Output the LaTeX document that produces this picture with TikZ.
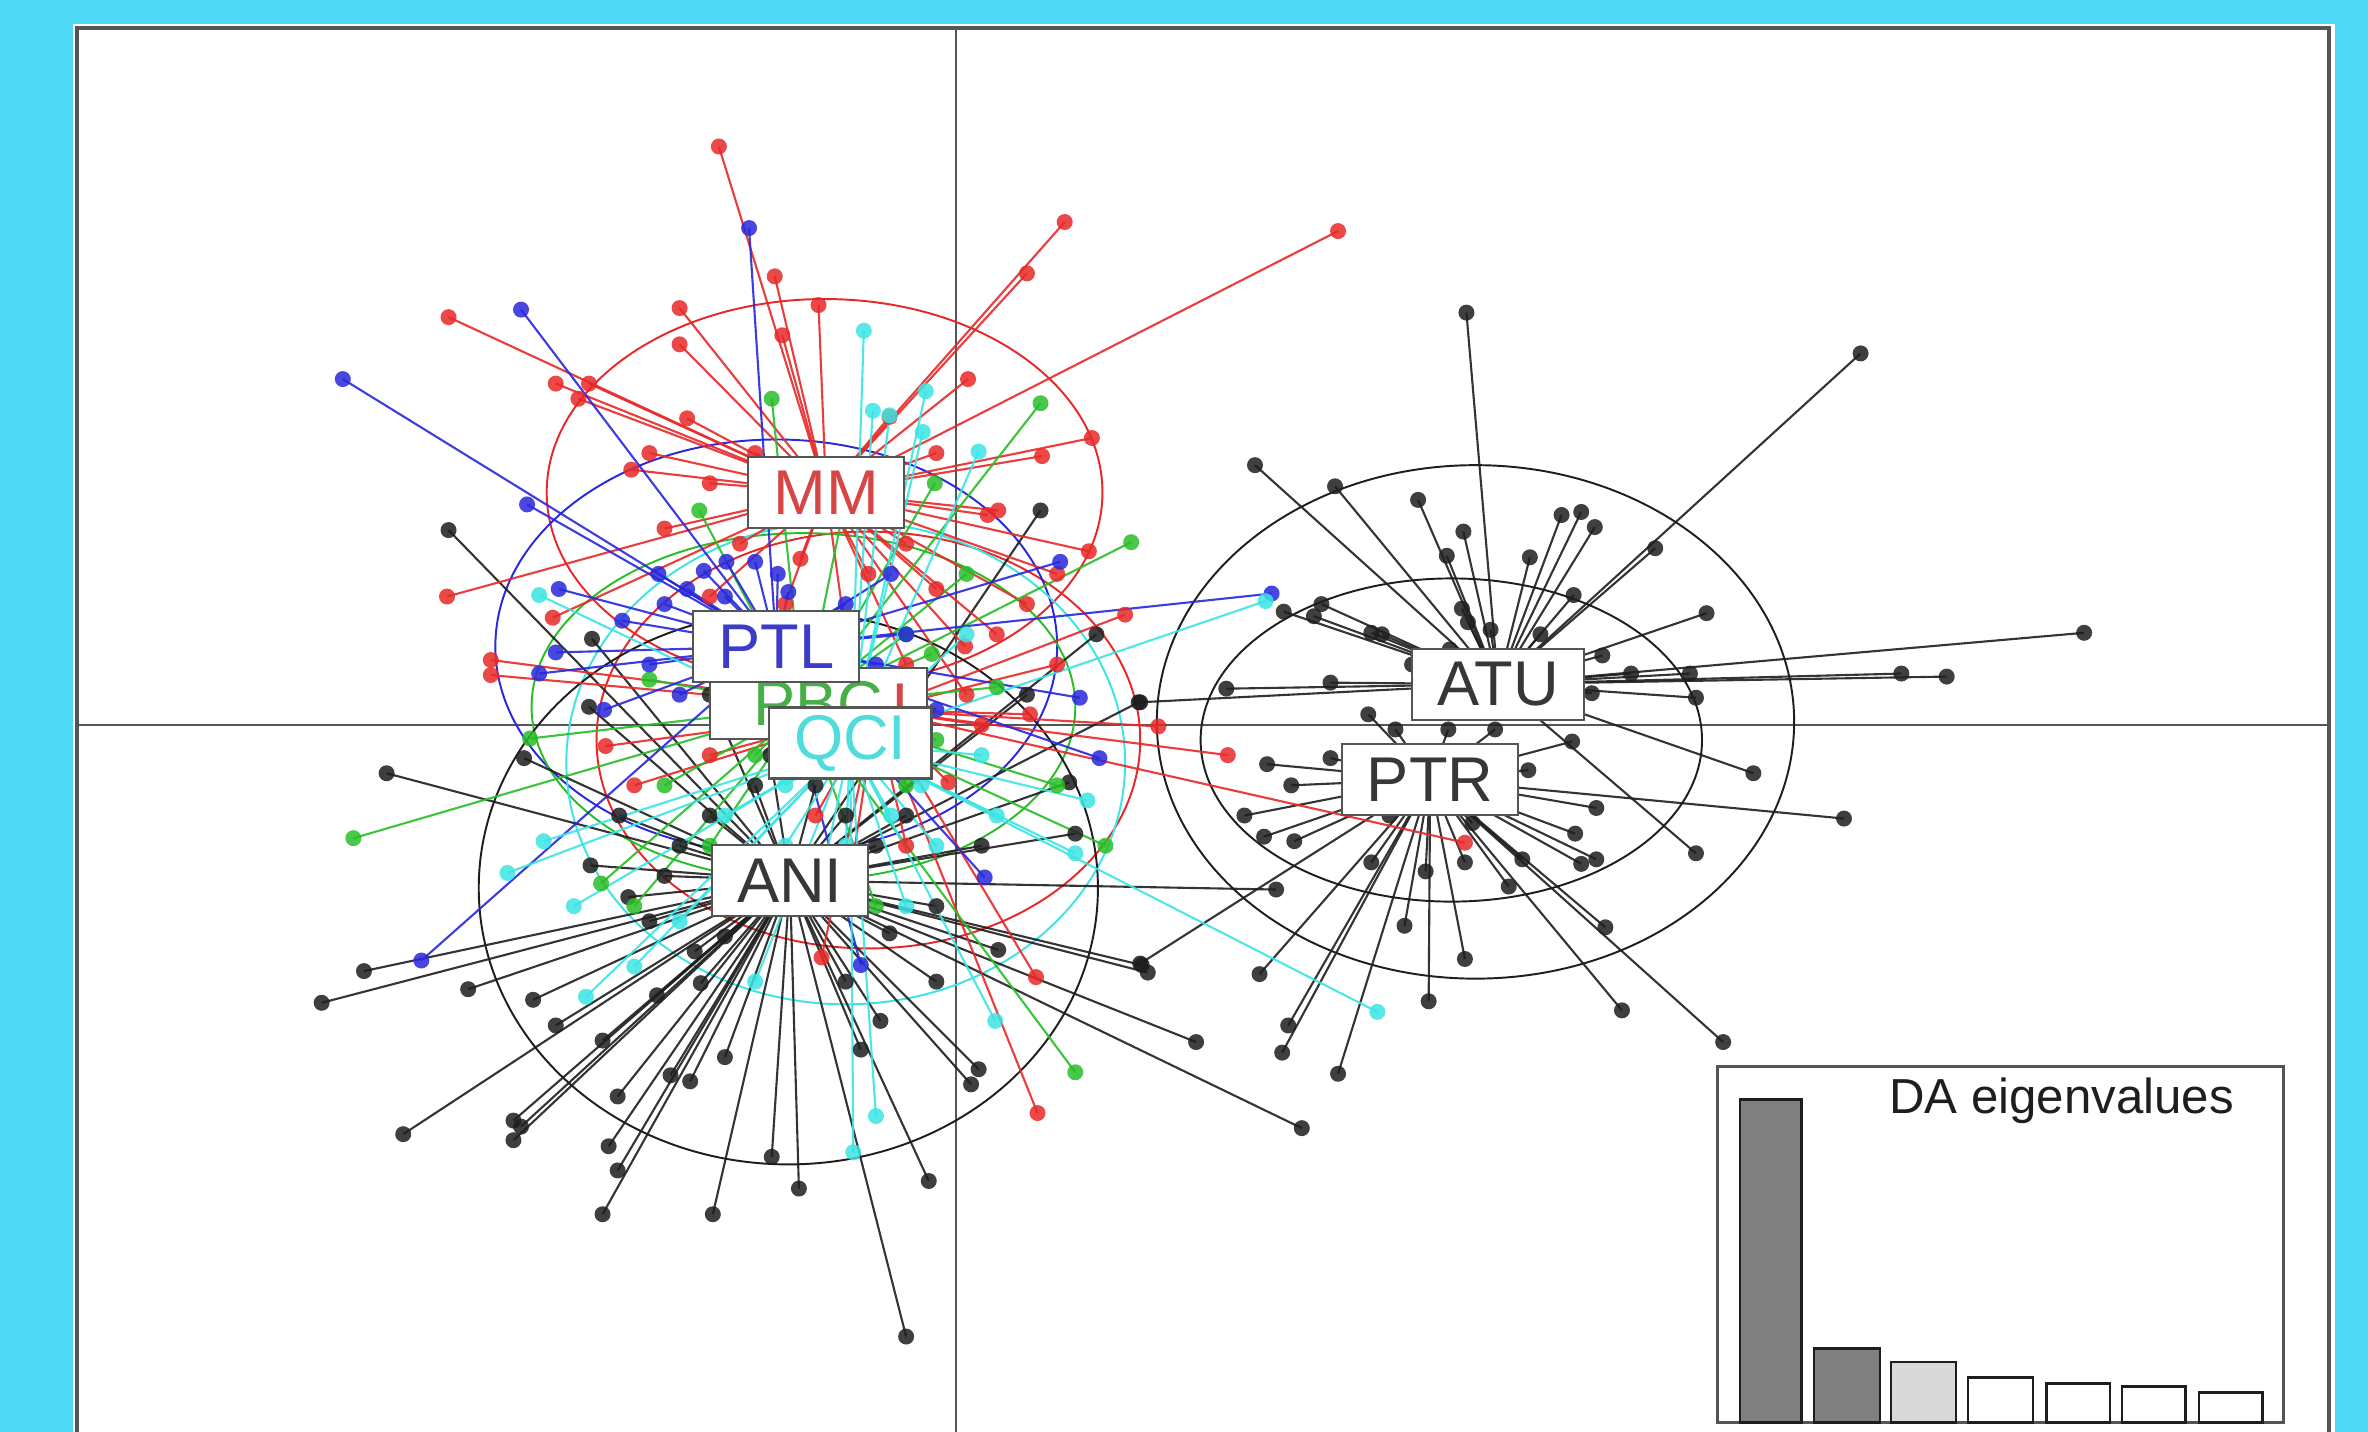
\documentclass[tikz,border=0pt]{standalone}
\usepackage{fontspec}
\setmainfont{Liberation Sans}

\definecolor{bgblue}{RGB}{77,217,245}
\definecolor{framegray}{RGB}{85,85,85}
\definecolor{ptred}{RGB}{232,40,40}
\definecolor{ptblue}{RGB}{40,40,220}
\definecolor{ptgreen}{RGB}{40,190,40}
\definecolor{ptcyan}{RGB}{60,228,228}
\definecolor{ptblack}{RGB}{30,30,30}
\definecolor{lblred}{RGB}{215,70,70}
\definecolor{lblblue}{RGB}{60,60,200}
\definecolor{lblgreen}{RGB}{70,175,70}
\definecolor{lblcyan}{RGB}{80,220,220}
\definecolor{lblgray}{RGB}{55,55,55}

% star lines from a group centre, then the dots
\newcommand{\starlines}[3]{\foreach \px/\py in #3 {\coordinate (p) at (\px,\py); \draw[ptline,#2] (#1) -- (p);}}
\newcommand{\stardots}[2]{\foreach \px/\py in #2 {\fill[ptdot,#1] (\px,\py) circle[radius=0.08cm];}}

% group points
\def\mmpts{476/97, 705/147, 886/153, 680/181, 513/183, 450/204, 542/202, 297/210, 518/222, 450/228, 368/254, 390/254, 383/264, 589/276, 641/251, 455/277, 723/290, 418/311, 661/338, 654/341, 721/365, 366/409, 639/428, 500/300, 470/395, 600/360, 620/390, 575/380, 530/370, 490/360, 440/350, 296/395, 690/302, 560/420, 600/440, 640/460, 520/400, 680/400, 580/330, 620/300, 470/320, 430/300, 660/420, 700/380}
\def\redpts{325/437, 325/447, 401/494, 628/518, 686/647, 687/737, 544/634, 767/481, 813/500, 970/558, 682/473, 745/407, 604/454, 420/520, 470/500, 540/540, 560/600, 600/560, 650/480, 700/440, 520/430}
\def\ptlpts{496/151, 345/205, 227/251, 349/334, 370/390, 368/432, 357/446, 412/411, 715/462, 728/502, 702/372, 652/581, 279/636, 570/639, 842/393, 436/380, 455/390, 466/378, 481/372, 500/372, 515/380, 522/392, 430/440, 400/470, 600/420, 620/470, 560/400, 590/380, 440/400, 470/410, 480/395, 540/420, 580/440, 450/460, 490/470}
\def\pbcpts{689/267, 511/264, 749/359, 234/555, 712/710, 732/560, 398/585, 351/489, 619/320, 463/338, 617/433, 660/455, 430/450, 440/520, 600/520, 580/600, 470/560, 640/380, 560/330, 700/520, 420/600, 500/500, 560/500, 620/490, 600/420, 480/420}
\def\qcipts{572/219, 578/272, 589/275, 613/259, 648/299, 611/286, 357/394, 336/578, 360/557, 388/660, 580/739, 565/763, 659/676, 712/565, 912/670, 720/530, 838/398, 520/560, 540/600, 600/600, 620/560, 480/540, 450/610, 420/640, 500/650, 640/420, 650/500, 380/600, 540/450, 600/470, 610/520, 520/520, 590/540, 660/540, 560/560}
\def\anipts{297/351, 256/512, 241/643, 213/664, 267/751, 310/655, 340/742, 345/746, 340/755, 353/662, 368/679, 399/689, 409/726, 403/759, 409/775, 399/804, 472/804, 444/712, 457/716, 464/651, 435/659, 391/573, 416/594, 511/766, 529/787, 570/695, 583/676, 589/618, 615/782, 600/885, 643/718, 648/708, 661/629, 712/552, 756/639, 760/644, 689/338, 726/420, 754/465, 680/460, 708/518, 347/502, 392/423, 390/468, 845/589, 862/747, 792/690, 460/630, 480/700, 430/610, 620/650, 560/650, 470/540, 500/520, 540/520, 560/540, 450/560, 600/540, 620/600, 480/620, 440/580, 580/560, 510/500, 470/460, 650/560, 410/540}
\def\atupts{971/207, 1232/234, 831/308, 884/322, 939/331, 1034/341, 1047/339, 1056/349, 1096/363, 969/352, 958/368, 1013/369, 1042/394, 968/403, 987/417, 972/412, 1130/406, 1380/419, 1259/446, 1289/448, 1119/446, 1080/446, 1061/434, 1123/462, 1054/459, 850/405, 875/400, 870/408, 915/420, 908/419, 881/452, 812/456, 1161/512, 1123/565, 755/465, 935/440, 960/430, 1020/420}
\def\ptrpts{1221/542, 1057/535, 1043/552, 1047/572, 1057/569, 1063/614, 1074/669, 1141/690, 1012/510, 1041/491, 1008/569, 999/587, 970/635, 946/663, 930/613, 944/577, 970/571, 908/571, 834/645, 755/638, 853/679, 849/697, 886/711, 837/554, 857/557, 824/540, 839/506, 881/502, 855/520, 906/473, 924/483, 959/483, 990/483, 920/540, 975/545}

\begin{document}
\begin{tikzpicture}[x=0.015102cm, y=-0.015102cm,
    ptline/.style={line width=0.6pt, opacity=0.9},
    ptdot/.style={fill opacity=0.85},
    ellip/.style={line width=0.55pt},
    grpbox/.style={draw=framegray, fill=white, line width=0.6pt, inner xsep=0.25cm,
        inner ysep=0pt, minimum height=0.71cm, font=\fontsize{18}{18}\selectfont},
    evbar/.style={draw=ptblack, line width=0.7pt}]

% Background and frame
\useasboundingbox[fill=bgblue] (0,0) rectangle (1568,948);
\fill[white] (48.3,15.9) rectangle (1546,960);
\draw[framegray, line width=1.1pt] (51,960) -- (51,18.5) -- (1542,18.5) -- (1542,960);

% Axes
\draw[framegray, line width=0.6pt] (51,480) -- (1542,480);
\draw[framegray, line width=0.6pt] (633,18.5) -- (633,960);

% Group centres
\coordinate (cMM) at (547,326);
\coordinate (cRed) at (580,470);
\coordinate (cPTL) at (514,428);
\coordinate (cPBC) at (532,468);
\coordinate (cQCI) at (563,492);
\coordinate (cANI) at (523,583);
\coordinate (cATU) at (992,453);
\coordinate (cPTR) at (947,516);

% Ellipses
\draw[ellip, ptred] (546,326) ellipse[x radius=184, y radius=128];
\draw[ellip, ptred] (575,490) ellipse[x radius=180, y radius=138];
\draw[ellip, ptblue] (514,428) ellipse[x radius=186, y radius=137];
\draw[ellip, ptgreen] (532,468) ellipse[x radius=180, y radius=115];
\draw[ellip, ptcyan] (560,505) ellipse[x radius=185, y radius=160];
\draw[ellip, ptblack] (522,588) ellipse[x radius=205, y radius=183];
\draw[ellip, ptblack] (977,478) ellipse[x radius=211, y radius=170];
\draw[ellip, ptblack] (961,490) ellipse[x radius=166, y radius=107];

% Stars
\starlines{cATU}{ptblack}{\atupts}
\starlines{cPTR}{ptblack}{\ptrpts}
\starlines{cANI}{ptblack}{\anipts}
\starlines{cMM}{ptred}{\mmpts}
\starlines{cRed}{ptred}{\redpts}
\starlines{cPBC}{ptgreen}{\pbcpts}
\starlines{cPTL}{ptblue}{\ptlpts}
\starlines{cQCI}{ptcyan}{\qcipts}

% Dots
\stardots{ptblack}{\atupts}
\stardots{ptblack}{\ptrpts}
\stardots{ptblack}{\anipts}
\stardots{ptred}{\mmpts}
\stardots{ptred}{\redpts}
\stardots{ptgreen}{\pbcpts}
\stardots{ptblue}{\ptlpts}
\stardots{ptcyan}{\qcipts}

% Group labels
\node (mm) [grpbox, text=lblred] at (cMM) {MM};
\node (ani) [grpbox, text=lblgray] at (cANI) {ANI};
\node (atu) [grpbox, text=lblgray] at (cATU) {ATU};
\node (ptr) [grpbox, text=lblgray] at (cPTR) {PTR};
\node (pbc) [grpbox, text=lblgreen, minimum width=2.17cm] at (542,466) {PBC\hspace{0.3cm}};
\node (redlbl) [text=lblred, font=\fontsize{18}{18}\selectfont, inner sep=0pt] at (596,467) {I};
\node (ptl) [grpbox, text=lblblue] at (cPTL) {PTL};
\node (qci) [grpbox, text=lblcyan] at (cQCI) {QCI};

% Eigenvalue inset
\draw[framegray, line width=0.8pt, fill=white] (1137,706) rectangle (1512,942);
\node (evtitle) [font=\fontsize{14}{14}\selectfont, text=ptblack] at (1365,729) {DA eigenvalues};
\draw[evbar, fill=black!50] (1152,728) rectangle (1193,942);
\draw[evbar, fill=black!50] (1201,893) rectangle (1245,942);
\draw[evbar, fill=black!15] (1252,902) rectangle (1295,942);
\draw[evbar, fill=white] (1303,912) rectangle (1346,942);
\draw[evbar, fill=white] (1355,916) rectangle (1397,942);
\draw[evbar, fill=white] (1405,918) rectangle (1447,942);
\draw[evbar, fill=white] (1456,922) rectangle (1498,942);

\end{tikzpicture}
\end{document}
